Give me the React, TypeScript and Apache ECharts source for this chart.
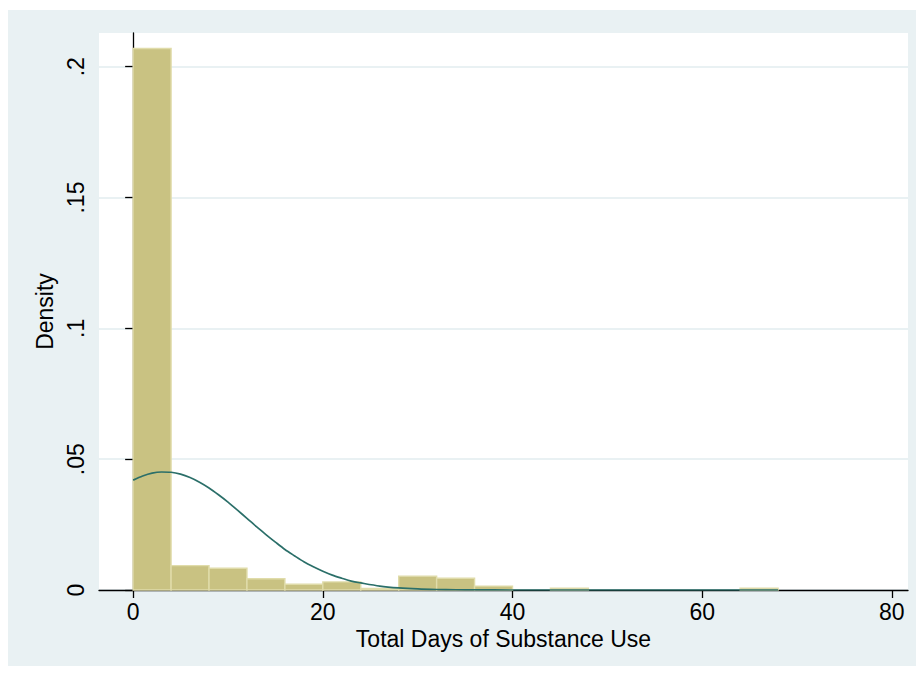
import React, { useEffect, useRef } from "react";
import * as echarts from "echarts";

// Histogram bins (width 4) and their densities
const binStarts = [0, 4, 8, 12, 16, 20, 24, 28, 32, 36, 40, 44, 64];
const binWidth = 4;
const densities = [0.207, 0.0093, 0.0083, 0.0043, 0.0022, 0.0031, 0.0006, 0.0053, 0.0045, 0.0015, 0, 0.0007, 0.0007];

// Normal density overlay
const curveX = [0, 1, 2, 3, 4, 5, 6, 7, 8, 9, 10, 11, 12, 13, 14, 15, 16, 17, 18, 19, 20, 21, 22, 23, 24, 26, 28, 30, 32, 34, 36, 40, 44, 50, 56, 62, 68];
const curveY = [0.042, 0.0436, 0.0447, 0.0451, 0.045, 0.0443, 0.043, 0.0412, 0.039, 0.0364, 0.0336, 0.0305, 0.0274, 0.0242, 0.0212, 0.0183, 0.0155, 0.0131, 0.0108, 0.0089, 0.0072, 0.0057, 0.0045, 0.0034, 0.0027, 0.0015, 0.0008, 0.0004, 0.0002, 0.0001, 0.00004, 0.000005, 0, 0, 0, 0, 0];

const xTicks = [0, 20, 40, 60, 80];
const yTicks = [0, 0.05, 0.1, 0.15, 0.2];
const yTickLabels = ["0", ".05", ".1", ".15", ".2"];

const FONT = "'Liberation Sans', Arial, Helvetica, sans-serif";

export default function App() {
  const ref = useRef<HTMLDivElement>(null);
  useEffect(() => {
    if (!ref.current) return;
    const chart = echarts.init(ref.current, null, { renderer: "svg" });
    const barData = binStarts.map((s, i) => [s, s + binWidth, densities[i]]);
    const lineData = curveX.map((x, i) => [x, curveY[i]]);
    chart.setOption({
      animation: false,
      backgroundColor: "#ffffff",
      graphic: [
        {
          type: "rect",
          z: -10,
          silent: true,
          shape: { x: 8, y: 10, width: 908, height: 656 },
          style: { fill: "#e9f1f3" },
        },
      ],
      grid: {
        left: 99,
        right: 10,
        top: 33,
        bottom: 85,
        show: true,
        backgroundColor: "#ffffff",
        borderWidth: 0,
      },
      xAxis: {
        type: "value",
        min: -3.6,
        max: 81.7,
        name: "Total Days of Substance Use",
        nameLocation: "middle",
        nameGap: 37,
        nameTextStyle: { fontFamily: FONT, fontSize: 23, color: "#000" },
        axisLine: { show: true, onZero: false, lineStyle: { color: "#000", width: 1.3 } },
        axisTick: { show: true, length: 8, customValues: xTicks, lineStyle: { color: "#000", width: 1.3 } },
        axisLabel: {
          customValues: xTicks,
          fontFamily: FONT,
          fontSize: 23,
          color: "#000",
          margin: 10,
        },
        splitLine: { show: false },
      },
      yAxis: {
        type: "value",
        min: 0,
        max: 0.2129,
        name: "Density",
        nameLocation: "middle",
        nameGap: 40,
        nameTextStyle: { fontFamily: FONT, fontSize: 23, color: "#000" },
        axisLine: { show: true, lineStyle: { color: "#000", width: 1.3 } },
        axisTick: { show: true, length: 8, customValues: yTicks, lineStyle: { color: "#000", width: 1.3 } },
        axisLabel: {
          customValues: yTicks,
          rotate: 90,
          fontFamily: FONT,
          fontSize: 23,
          color: "#000",
          margin: 12,
          formatter: (v: number) => {
            const idx = yTicks.findIndex((t) => Math.abs(t - v) < 1e-9);
            return idx >= 0 ? yTickLabels[idx] : "";
          },
        },
        splitLine: { show: true, lineStyle: { color: "#e9f1f3", width: 2 } },
      },
      series: [
        {
          type: "custom",
          data: barData,
          encode: { x: [0, 1], y: 2 },
          z: 2,
          renderItem: (params: any, api: any) => {
            const x0 = api.value(0);
            const x1 = api.value(1);
            const y = api.value(2);
            if (!(y > 0)) return null;
            const pTop = api.coord([x0, y]);
            const pBot = api.coord([x1, 0]);
            return {
              type: "rect",
              shape: {
                x: pTop[0],
                y: pTop[1],
                width: pBot[0] - pTop[0],
                height: pBot[1] - pTop[1],
              },
              style: { fill: "#c9c282", stroke: "#e0dcaa", lineWidth: 1.4 },
            };
          },
        },
        {
          type: "line",
          data: lineData,
          showSymbol: false,
          smooth: 0.3,
          z: 3,
          lineStyle: { color: "#2b6f69", width: 1.7 },
        },
      ],
    });
    return () => chart.dispose();
  }, []);
  return (
    <div
      ref={ref}
      style={{ position: "absolute", left: 0, top: 0, width: 918, height: 675 }}
    />
  );
}
